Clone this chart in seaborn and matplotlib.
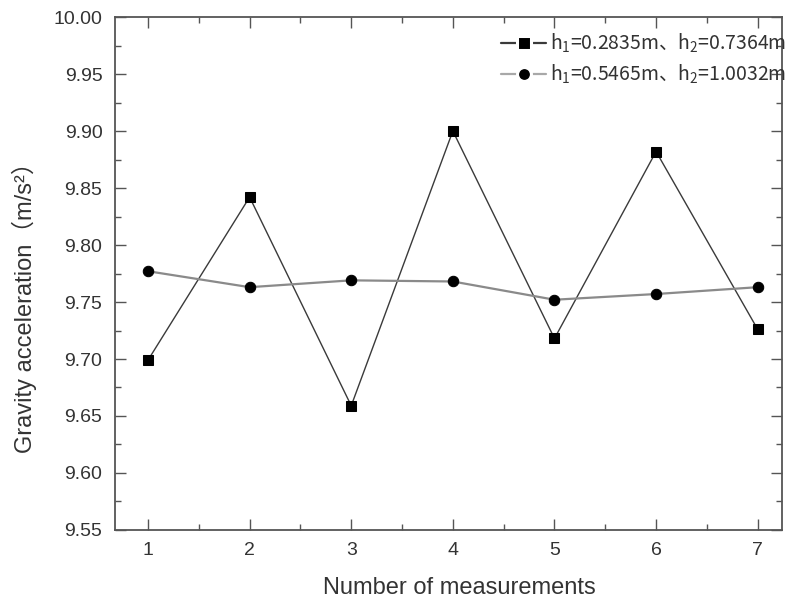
import pandas as pd
import numpy as np
import matplotlib
matplotlib.use("Agg")
import matplotlib.pyplot as plt
from matplotlib.lines import Line2D
from matplotlib.ticker import MultipleLocator, FormatStrFormatter
import seaborn as sns

measurements = [1, 2, 3, 4, 5, 6, 7]
g_short = [9.699, 9.842, 9.659, 9.900, 9.718, 9.882, 9.726]
g_long = [9.777, 9.763, 9.769, 9.768, 9.752, 9.757, 9.763]
label_short = r"h$_1$=0.2835m、h$_2$=0.7364m"
label_long = r"h$_1$=0.5465m、h$_2$=1.0032m"

sns.set_style("ticks")
plt.rcParams['font.family'] = ['Liberation Sans', 'DejaVu Sans', 'Noto Sans CJK SC']
plt.rcParams['mathtext.fontset'] = 'custom'
plt.rcParams['mathtext.rm'] = 'Noto Sans CJK SC'
plt.rcParams['mathtext.it'] = 'Noto Sans CJK SC'
plt.rcParams['mathtext.default'] = 'rm'

fig = plt.figure(figsize=(7.94, 5.99), dpi=100)
ax = fig.add_axes([0.1448, 0.1152, 0.8402, 0.8564])

sns.lineplot(x=measurements, y=g_short, ax=ax, color='#3a3a3a', lw=1.0,
             marker='s', markersize=7, markerfacecolor='black',
             markeredgecolor='black')
sns.lineplot(x=measurements, y=g_long, ax=ax, color='#8a8a8a', lw=1.6,
             marker='o', markersize=7.5, markerfacecolor='black',
             markeredgecolor='black')

ax.set_xlim(0.675, 7.24)
ax.set_ylim(9.55, 10.00)
ax.xaxis.set_major_locator(MultipleLocator(1))
ax.xaxis.set_minor_locator(MultipleLocator(0.5))
ax.yaxis.set_major_locator(MultipleLocator(0.05))
ax.yaxis.set_minor_locator(MultipleLocator(0.025))
ax.yaxis.set_major_formatter(FormatStrFormatter('%.2f'))

for s in ax.spines.values():
    s.set_visible(True)
    s.set_color('#555555')
    s.set_linewidth(1.3)
ax.tick_params(which='both', direction='in', top=True, right=True,
               colors='#555555', labelcolor='#333333')
ax.tick_params(which='major', length=8, width=1, labelsize=14)
ax.tick_params(axis='y', which='major', pad=9)
ax.tick_params(axis='x', which='major', pad=9)
ax.tick_params(which='minor', length=4, width=1)

ax.set_xlabel('Number of measurements', fontsize=17, color='#333333')
ax.set_ylabel('Gravity acceleration（m/s²）', fontsize=17, color='#333333')
ax.xaxis.set_label_coords(0.517, -0.0916)
ax.yaxis.set_label_coords(-0.117, 0.444)

# legend keys: line broken around the marker
h1 = Line2D([], [], color='#3a3a3a', lw=1.6, marker='s', markersize=9.5,
            markerfacecolor='black', markeredgecolor='white', markeredgewidth=2.2)
h2 = Line2D([], [], color='#a8a8a8', lw=1.6, marker='o', markersize=10,
            markerfacecolor='black', markeredgecolor='white', markeredgewidth=2.2)
leg = ax.legend([h1, h2], [label_short, label_long], loc='upper right',
                bbox_to_anchor=(1.006, 0.972), frameon=False,
                prop={'family': 'Noto Sans CJK SC', 'size': 14},
                handlelength=2.3, handletextpad=0.2, borderaxespad=0,
                borderpad=0, labelspacing=0.4)
for t in leg.get_texts():
    t.set_color('#333333')

fig.savefig('out.png', dpi=100)
